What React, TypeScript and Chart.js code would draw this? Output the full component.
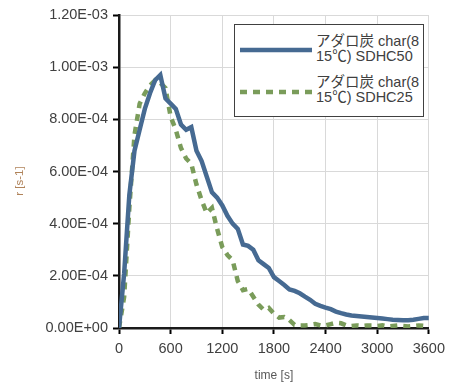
import React, { useEffect, useRef } from "react";
import { Chart, registerables } from "chart.js";

Chart.register(...registerables);

const TIMES = [
  0, 60, 120, 180, 240, 300, 360, 420, 480, 540, 600, 660, 720, 780, 840, 900, 960, 1020, 1080, 1140,
  1200, 1260, 1320, 1380, 1440, 1500, 1560, 1620, 1680, 1740, 1800, 1860, 1920, 1980, 2040, 2100,
  2160, 2220, 2280, 2340, 2400, 2460, 2520, 2580, 2640, 2700, 2760, 2820, 2880, 2940, 3000, 3060,
  3120, 3180, 3240, 3300, 3360, 3420, 3480, 3540, 3600,
];

// r values in units of 1e-4 s^-1
const SDHC50 = [
  0, 2.1, 5.1, 6.8, 7.6, 8.4, 9.0, 9.5, 9.7, 8.8, 8.6, 8.4, 7.8, 7.6, 7.7, 6.8, 6.4, 5.8, 5.2, 5.0,
  4.7, 4.3, 4.0, 3.8, 3.2, 3.15, 3.0, 2.6, 2.45, 2.3, 1.95, 1.8, 1.65, 1.48, 1.42, 1.33,
  1.2, 1.08, 0.93, 0.85, 0.78, 0.72, 0.63, 0.57, 0.52, 0.48, 0.46, 0.44, 0.42, 0.4, 0.38, 0.36,
  0.34, 0.32, 0.31, 0.3, 0.3, 0.32, 0.35, 0.38, 0.38,
];

const SDHC25 = [
  0, 1.2, 4.6, 7.4, 8.6, 9.0, 9.3, 9.5, 9.4, 9.2, 8.1, 7.6, 6.9, 6.5, 6.3, 5.5, 4.9, 4.4, 4.6, 3.8,
  3.1, 2.8, 2.6, 1.8, 1.45, 1.5, 1.2, 0.9, 0.7, 0.77, 0.55, 0.4, 0.42, 0.3, 0.12, 0.1,
  0.1, 0.12, 0.15, 0.1, 0.1, 0.15, 0.2, 0.18, 0.1, 0.08, 0.1, 0.08, 0.1, 0.1, 0.08, 0.1,
  0.06, 0.08, 0.1, 0.08, 0.06, 0.08, 0.1, 0.08, 0.06,
];

const SERIES_NAMES = ["アダロ炭 char(8\n15℃) SDHC50", "アダロ炭 char(8\n15℃) SDHC25"];
const X_TITLE = "time [s]";
const Y_TITLE = "r [s-1]";

const BLUE = "#466a92";
const GREEN = "#7a9c5a";
const FONT = "'Liberation Sans', 'Noto Sans CJK JP', sans-serif";

function fmtExp(v: number): string {
  const s = v.toExponential(2).toUpperCase();
  const m = s.match(/^(-?[\d.]+)E([+-])(\d+)$/);
  if (!m) return s;
  return `${m[1]}E${m[2]}${m[3].padStart(2, "0")}`;
}

export default function App() {
  const ref = useRef<HTMLCanvasElement | null>(null);

  useEffect(() => {
    if (!ref.current) return;
    Chart.defaults.font.family = FONT;
    const chart = new Chart(ref.current, {
      type: "line",
      data: {
        datasets: [
          {
            label: SERIES_NAMES[0],
            data: TIMES.map((t, i) => ({ x: t, y: SDHC50[i] * 1e-4 })),
            borderColor: BLUE,
            backgroundColor: BLUE,
            borderWidth: 4.5,
            pointRadius: 0,
            tension: 0,
          },
          {
            label: SERIES_NAMES[1],
            data: TIMES.map((t, i) => ({ x: t, y: SDHC25[i] * 1e-4 })),
            borderColor: GREEN,
            backgroundColor: GREEN,
            borderWidth: 4.5,
            borderDash: [7, 6],
            pointRadius: 0,
            tension: 0,
          },
        ],
      },
      options: {
        animation: false,
        responsive: false,
        maintainAspectRatio: false,
        layout: { padding: { left: 0, top: 15, right: 18, bottom: 0 } },
        plugins: { legend: { display: false }, tooltip: { enabled: false } },
        scales: {
          x: {
            type: "linear",
            min: 0,
            max: 3600,
            ticks: {
              stepSize: 600,
              color: "#404040",
              font: { size: 14.5 },
              padding: 6,
              maxRotation: 0,
              callback: (v: any) => String(Math.round(Number(v))),
            },
            grid: { color: "#d9d9d9", lineWidth: 1, tickLength: 6, tickColor: "#000", tickWidth: 2 },
            border: { color: "#1a1a1a", width: 2.5 },
            title: {
              display: true,
              text: X_TITLE,
              color: "#595959",
              font: { size: 12 },
              padding: { top: 0, bottom: 5 },
            },
            afterFit: (s: any) => {
              s.height = 60;
            },
          },
          y: {
            type: "linear",
            min: 0,
            max: 1.2e-3,
            ticks: {
              stepSize: 2e-4,
              color: "#404040",
              font: { size: 14.5 },
              padding: 5,
              callback: (v: any) => fmtExp(Number(v)),
            },
            grid: { color: "#d9d9d9", lineWidth: 1, tickLength: 6, tickColor: "#000", tickWidth: 2 },
            border: { color: "#1a1a1a", width: 2.5 },
            title: {
              display: true,
              text: Y_TITLE + "      ",
              color: "#b0835a",
              font: { size: 11.5 },
              padding: { top: 13, bottom: 0 },
            },
            afterFit: (s: any) => {
              s.width = 119;
            },
          },
        },
      },
    });
    return () => chart.destroy();
  }, []);

  const textStyle: React.CSSProperties = {
    position: "absolute",
    left: 316,
    fontFamily: FONT,
    fontSize: 14.5,
    lineHeight: "15px",
    color: "#404040",
    whiteSpace: "pre",
  };

  return (
    <div style={{ position: "fixed", left: 0, top: 0, width: 451, height: 388, background: "#fff" }}>
      <canvas ref={ref} width={451} height={388} style={{ display: "block" }} />
      <div
        style={{
          position: "absolute",
          left: 234,
          top: 24,
          width: 190,
          height: 93,
          border: "1px solid #404040",
          background: "#fff",
          boxSizing: "border-box",
        }}
      />
      <svg style={{ position: "absolute", left: 240, top: 44, overflow: "visible" }} width={72} height={12}>
        <line x1={0} y1={6} x2={72} y2={6} stroke={BLUE} strokeWidth={4.5} />
      </svg>
      <svg style={{ position: "absolute", left: 240, top: 86, overflow: "visible" }} width={72} height={12}>
        <line x1={0} y1={6} x2={72} y2={6} stroke={GREEN} strokeWidth={4.5} strokeDasharray="7 6" />
      </svg>
      <div style={{ ...textStyle, top: 34 }}>{SERIES_NAMES[0]}</div>
      <div style={{ ...textStyle, top: 75 }}>{SERIES_NAMES[1]}</div>
    </div>
  );
}
